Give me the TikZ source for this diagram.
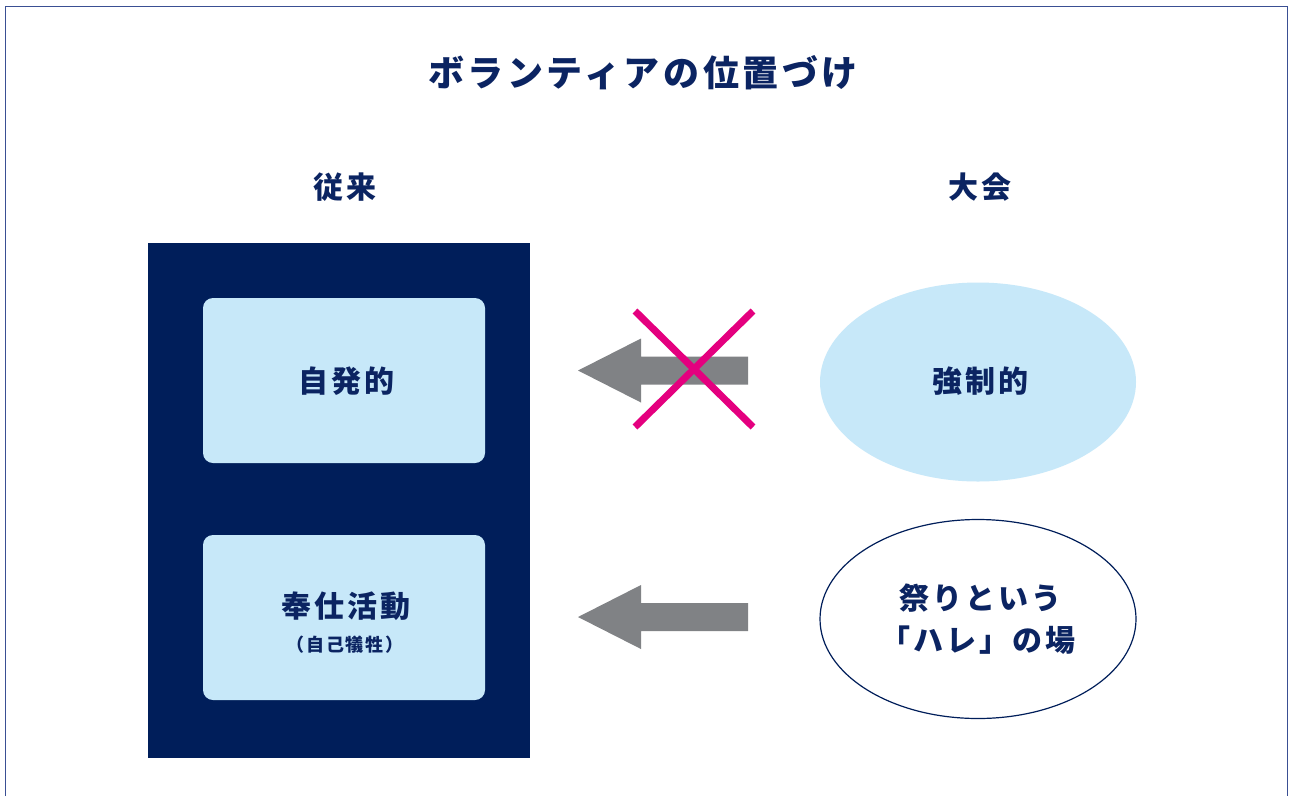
\documentclass[tikz,border=0pt]{standalone}
\usepackage{fontspec}
\setmainfont{Noto Sans CJK JP}[LetterSpace=10]
\definecolor{navy}{HTML}{001E5A}
\definecolor{txt}{HTML}{0B2462}
\definecolor{lblue}{HTML}{C7E8F9}
\definecolor{agray}{HTML}{808285}
\definecolor{pink}{HTML}{E4007F}
\definecolor{frame}{HTML}{3A4F93}
\tikzset{
  lbl/.style={text=txt, font=\bfseries\fontsize{30}{36}\selectfont, inner sep=0pt, align=center},
  ibox/.style={fill=lblue, rounded corners=10pt, minimum width=282pt, minimum height=165pt, inner sep=0pt},
  oval/.style={ellipse, minimum width=316pt, minimum height=199pt, inner sep=0pt},
  blockarrow/.style={fill=agray},
  cross/.style={draw=pink, line width=7pt}
}
\usetikzlibrary{shapes.geometric}
\begin{document}
\begin{tikzpicture}[x=1pt,y=-1pt]
\useasboundingbox (0,0) rectangle (1290,796);
\fill[white] (0,0) rectangle (1290,796);
\draw[frame, line width=1.6pt] (5.5,796) -- (5.5,6.5) -- (1287.5,6.5) -- (1287.5,796);
\node[lbl, font=\bfseries\fontsize{36}{40}\selectfont] (title) at (643,73) {ボランティアの位置づけ};
\node[lbl] (juurai) at (345,187) {従来};
\node[lbl] (taikai) at (980,187) {大会};
\fill[navy] (148,243) rectangle (530,758);
\node[ibox] (b1) at (344,380.5) {};
\node[lbl] (t1) at (346,381) {自発的};
\node[ibox] (b2) at (344,617.5) {};
\node[lbl] (t2) at (346,606) {奉仕活動};
\node[lbl, font=\bfseries\fontsize{18}{22}\selectfont] (t2b) at (345,645) {（自己犠牲）};
\node[oval, fill=lblue] (e1) at (978,382) {};
\node[lbl] (t3) at (980,381) {強制的};
\node[oval, draw=navy, line width=1.2pt, fill=white] (e2) at (978,619) {};
\node[lbl, align=center] (t4a) at (980,598) {祭りという};
\node[lbl, align=center] (t4b) at (978,640) {「ハレ」の場};
\coordinate (a1) at (578,370.5);
\coordinate (a2) at (578,617);
\fill[blockarrow] (a1) -- ++(63,-32) -- ++(0,18) -- ++(107,0) -- ++(0,28) -- ++(-107,0) -- ++(0,18) -- cycle;
\fill[blockarrow] (a2) -- ++(63,-32) -- ++(0,18) -- ++(107,0) -- ++(0,28) -- ++(-107,0) -- ++(0,18) -- cycle;
\coordinate (x1) at (635,311);
\coordinate (x2) at (753,427);
\coordinate (x3) at (635,427);
\coordinate (x4) at (753,311);
\draw[cross] (x1) -- (x2);
\draw[cross] (x3) -- (x4);
\end{tikzpicture}
\end{document}
